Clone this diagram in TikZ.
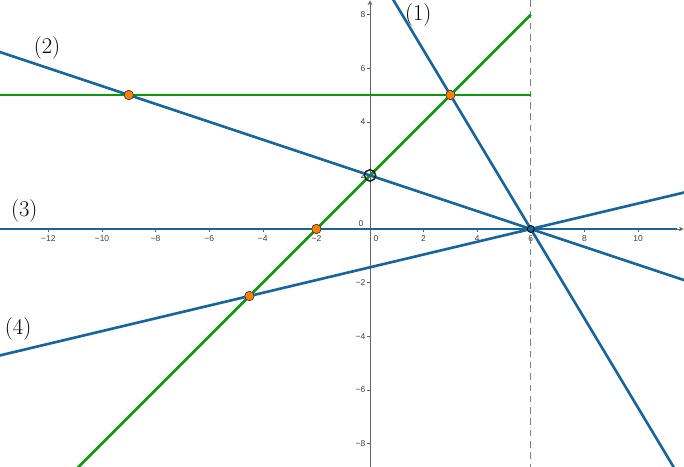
\documentclass[tikz,border=0pt]{standalone}
\usepackage{fontspec}
\newfontfamily\tickfont{Liberation Sans}
\usetikzlibrary{arrows.meta}
\definecolor{lineblue}{RGB}{22,102,156}
\definecolor{linegreen}{RGB}{10,155,10}
\definecolor{ptorange}{RGB}{255,127,0}
\definecolor{axisgray}{RGB}{100,100,100}

\begin{document}
\begin{tikzpicture}[x=1cm, y=1cm,
    blueline/.style={draw=lineblue, line width=2.8pt},
    greenline/.style={draw=linegreen, line width=2.8pt},
    axisline/.style={draw=axisgray, line width=1pt, -{Stealth[length=5pt,width=5pt]}},
    guide/.style={draw=gray, line width=1.1pt, dash pattern=on 7pt off 5pt},
    ptmark/.style={circle, draw=black!75, fill=ptorange, inner sep=0pt, minimum size=10pt, line width=0.8pt},
    ringmark/.style={circle, draw=black!85, inner sep=0pt, minimum size=12pt, line width=1.7pt},
    basemark/.style={circle, draw=black, fill=lineblue, inner sep=0pt, minimum size=7.5pt, line width=0.8pt},
    ticklab/.style={font=\tickfont\fontsize{9}{10}\selectfont, text=black!75, inner sep=0pt},
    numlab/.style={font=\fontsize{24}{28}\selectfont, inner sep=0pt}]

    \useasboundingbox (-13.806,-8.843) rectangle (11.716,8.545);
    \clip (-13.806,-8.843) rectangle (11.716,8.545);

    % Coordinates
    \coordinate (xl) at (-14,0);
    \coordinate (xr) at (11.70,0);
    \coordinate (yb) at (0,-9);
    \coordinate (yt) at (0,8.53);
    \coordinate (gb) at (6,-9);
    \coordinate (gt) at (6,9);
    \coordinate (a1) at (0.6,9);
    \coordinate (b1) at (11.7,-9.5);
    \coordinate (a2) at (-14,6.667);
    \coordinate (b2) at (12,-2);
    \coordinate (b3) at (11.45,0);
    \coordinate (a4) at (-14,-4.762);
    \coordinate (b4) at (12,1.4286);
    \coordinate (gl) at (-11,-9);
    \coordinate (gr) at (6,8);
    \coordinate (hl) at (-14,5);
    \coordinate (hr) at (6,5);

    % Axes
    \draw [axisline] (xl) -- (xr);
    \draw [axisline] (yb) -- (yt);
    \foreach \t in {-12,-10,-8,-6,-4,-2,2,4,6,8,10} {
        \draw [axisgray, line width=0.6pt] (\t,0) -- (\t,-0.1);
        \node [ticklab] at (\t,-0.37) {\ifnum\t<0 −\number-\t\else\t\fi};
    }
    \foreach \t in {-8,-6,-4,-2,2,4,6,8} {
        \draw [axisgray, line width=0.6pt] (0,\t) -- (-0.1,\t);
        \node [ticklab, anchor=east] at (-0.17,\t) {\ifnum\t<0 −\number-\t\else\t\fi};
    }
    \node [ticklab] at (-0.34,0.2) {0};
    \node [ticklab] at (0.22,-0.37) {0};

    % Lines
    \draw [guide] (gb) -- (gt);
    \draw [greenline] (hl) -- (hr);
    \draw [greenline] (gl) -- (gr);
    \draw [blueline] (a1) -- (b1);
    \draw [blueline] (a2) -- (b2);
    \draw [blueline] (xl) -- (b3);
    \draw [blueline] (a4) -- (b4);

    % Points
    \node [ptmark] (p1) at (-9,5) {};
    \node [ptmark] (p2) at (3,5) {};
    \node [ptmark] (p3) at (-2,0) {};
    \node [ptmark] (p4) at (-4.5,-2.5) {};
    \node [ringmark] (p5) at (0,2) {};
    \node [basemark] (p6) at (6,0) {};

    % Labels
    \node [numlab] (l1) at (1.8,7.99) {(1)};
    \node [numlab] (l2) at (-12.05,6.75) {(2)};
    \node [numlab] (l3) at (-12.9,0.67) {(3)};
    \node [numlab] (l4) at (-13.13,-3.73) {(4)};

\end{tikzpicture}
\end{document}
